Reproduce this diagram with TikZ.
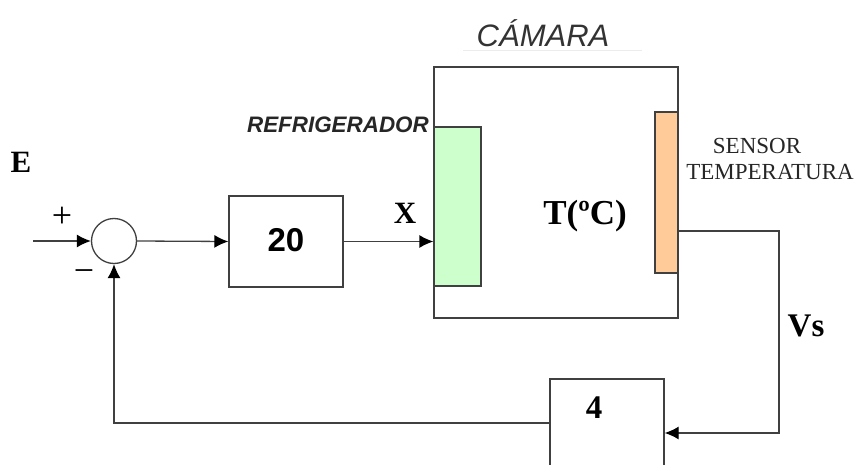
\documentclass[tikz,border=0pt]{standalone}
\usepackage{fontspec}
\setmainfont{Liberation Serif}
\setsansfont{Liberation Sans}
\usetikzlibrary{arrows.meta}
\definecolor{ln}{HTML}{404040}
\definecolor{grn}{HTML}{CCFFCC}
\definecolor{org}{HTML}{FFCC99}
\tikzset{
  wire/.style={draw=ln, line width=1.3pt, -{Latex[length=14pt,width=13pt,color=black]}},
  blk/.style={draw=ln, line width=1.3pt, fill=white, inner sep=0pt},
  bigtxt/.style={font=\fontsize{31}{36}\selectfont\bfseries, inner sep=0pt},
}
\begin{document}
\begin{tikzpicture}[x=1pt,y=-1pt]
\useasboundingbox (0,0) rectangle (856,465);
% blocks
\node[blk, circle, minimum size=45pt] (sum) at (114,241) {};
\node[blk, minimum width=114pt, minimum height=91pt, font=\sffamily\bfseries\fontsize{33}{38}\selectfont] (g20) at (286,241.5) {\raisebox{3pt}{20}};
\node[blk, minimum width=244pt, minimum height=251pt] (cam) at (556,192.5) {};
\node[blk, fill=grn, minimum width=47pt, minimum height=159pt] (ref) at (457.5,206.5) {};
\node[blk, fill=org, minimum width=23pt, minimum height=161pt] (sen) at (666.5,192.5) {};
\node[blk, minimum width=114pt, minimum height=100pt] (g4) at (607,429) {};
% texts
\node[bigtxt] (E) at (21,162) {E};
\node[font=\fontsize{36}{40}\selectfont, inner sep=0pt] (plus) at (62,217) {+};
\node[font=\fontsize{36}{40}\selectfont, inner sep=0pt] (minus) at (84,276) {−};
\node[bigtxt] (X) at (405,213) {X};
\node[bigtxt, font=\fontsize{35}{40}\selectfont\bfseries] (T) at (585,216) {T(ºC)};
\node[bigtxt, font=\fontsize{33}{38}\selectfont\bfseries] (Vs) at (806,326) {Vs};
\node[bigtxt, font=\fontsize{33}{38}\selectfont\bfseries] (four) at (594,408) {4};
\node[font=\sffamily\itshape\fontsize{31}{36}\selectfont, text=black!80, inner sep=0pt] (camt) at (543,33) {CÁMARA};
\draw[gray!15, line width=0.8pt] (463,50) -- (642,50);
\node[font=\sffamily\bfseries\itshape\fontsize{22.4}{26}\selectfont, text=black!85, inner sep=0pt, anchor=east] (reft) at (429,125) {REFRIGERADOR};
\node[font=\fontsize{23}{27}\selectfont, text=black!85, inner sep=0pt] (sent1) at (757,146) {SENSOR};
\node[font=\fontsize{23}{27}\selectfont, text=black!85, inner sep=0pt] (sent2) at (770,172) {TEMPERATURA};
% connectors
\coordinate (in) at (33,241);
\draw[wire] (in) -- (sum.west);
\draw[wire] (sum.east) -- (g20.west);
\draw[wire] (g20.east) -- (g20.east -| ref.west);
\coordinate (sout) at (678,231);
\coordinate (scorner) at (779,231);
\draw[wire] (sout) -- (scorner) |- ([yshift=-4pt]g4.east);
\draw[wire] ([yshift=6pt]g4.west) -| (sum.south);
\end{tikzpicture}
\end{document}
